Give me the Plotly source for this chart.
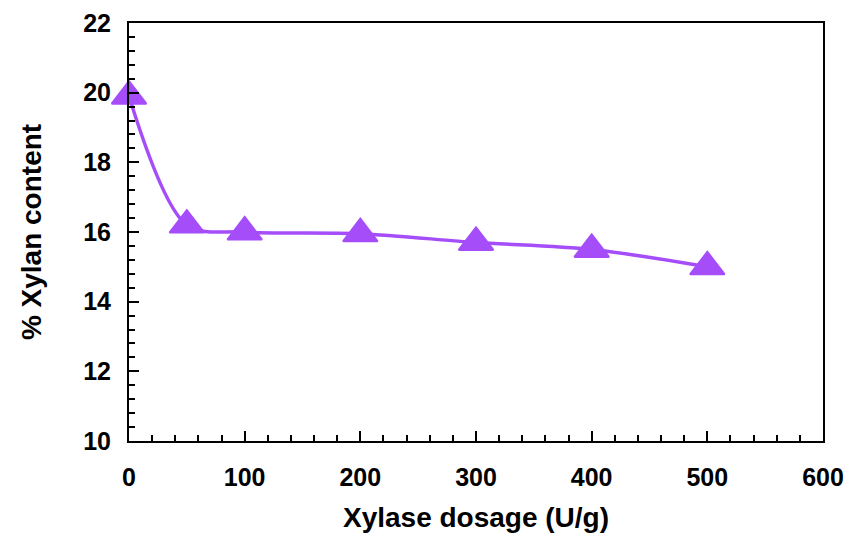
import plotly.graph_objects as go

dosage = [0, 50, 100, 200, 300, 400, 500]
xylan = [19.9, 16.2, 16.0, 15.95, 15.7, 15.5, 15.0]
x_ticks = [0, 100, 200, 300, 400, 500, 600]
y_ticks = [10, 12, 14, 16, 18, 20, 22]

purple = "#a64dfa"
FAM = "Liberation Sans, Arial, sans-serif"

fig = go.Figure()
fig.add_trace(go.Scatter(
    x=dosage, y=xylan, mode="lines+markers",
    line=dict(color=purple, width=3.5, shape="spline", smoothing=0.9),
    marker=dict(symbol="triangle-up", size=30, color=purple,
                line=dict(color=purple, width=2)),
    cliponaxis=False, showlegend=False,
))

fig.update_layout(
    width=847, height=535,
    margin=dict(l=129, r=24, t=23, b=94),
    plot_bgcolor="white", paper_bgcolor="white",
    font=dict(family=FAM, color="black"),
    xaxis=dict(
        range=[0, 600], tickvals=x_ticks, ticktext=[f"<b>{v}</b>" for v in x_ticks],
        ticks="inside", ticklen=10, tickwidth=2, tickcolor="black",
        showline=True, linecolor="black", linewidth=2, mirror=True,
        showgrid=False, zeroline=False, automargin=False,
        tickfont=dict(family=FAM, size=25, color="black"),
        ticklabelstandoff=13, ticklabeloverflow="allow",
        minor=dict(dtick=20, ticks="inside", ticklen=6, tickwidth=2, tickcolor="black", showgrid=False),
        title=dict(text="<b>Xylase dosage (U/g)</b>", font=dict(family=FAM, size=28, color="black"), standoff=17),
    ),
    yaxis=dict(
        range=[10, 22], tickvals=y_ticks, ticktext=[f"<b>{v}</b>" for v in y_ticks],
        ticks="inside", ticklen=10, tickwidth=2, tickcolor="black",
        showline=True, linecolor="black", linewidth=2, mirror=True,
        showgrid=False, zeroline=False, automargin=False,
        tickfont=dict(family=FAM, size=25, color="black"),
        ticklabelstandoff=11,
        minor=dict(dtick=0.4, ticks="inside", ticklen=6, tickwidth=2, tickcolor="black", showgrid=False),
        title=dict(text="<b>% Xylan content</b>", font=dict(family=FAM, size=28, color="black"), standoff=33),
    ),
)

# remove the browser's default 8px body margin so the figure fills the window
fig.write_html(
    "out.html",
    config={"displayModeBar": False},
    post_script="document.body.style.margin='0';document.body.style.overflow='hidden';",
)
